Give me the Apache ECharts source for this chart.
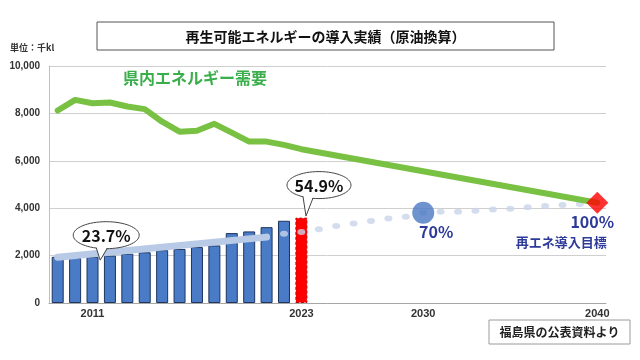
<!DOCTYPE html>
<html><head><meta charset="utf-8">
<script src="https://cdn.jsdelivr.net/npm/echarts@6/dist/echarts.min.js"></script>
<style>html,body{margin:0;padding:0;background:#fff}#c{width:640px;height:360px}</style>
</head><body><div id="c"></div>
<script>
// ---- data ----
const years = ['2009','2010','2011','2012','2013','2014','2015','2016','2017','2018','2019','2020','2021','2022','2023','2024','2025','2026','2027','2028','2029','2030','2031','2032','2033','2034','2035','2036','2037','2038','2039','2040'];
const xTickLabels = ['2011','2023','2030','2040'];
const yTicks = [0, 2000, 4000, 6000, 8000, 10000];
// renewable energy introduced (thousand kl, crude-oil equivalent)
const renewYears = ['2009','2010','2011','2012','2013','2014','2015','2016','2017','2018','2019','2020','2021','2022','2023'];
const renewables = [1950,1900,1950,2000,2080,2140,2230,2280,2360,2430,2950,3020,3200,3470,3600];
// prefectural energy demand
const demandYears = ['2009','2010','2011','2012','2013','2014','2015','2016','2017','2018','2019','2020','2021','2022','2023','2040'];
const demand = [8120,8570,8430,8460,8290,8180,7650,7230,7270,7560,7190,6810,6810,6670,6490,4230];
// share trend (light line)
const trendYears = ['2009','2021'];
const trendValues = [1930,2780];
// target path (dots)
const pathYears = ['2022','2023','2024','2025','2026','2027','2028','2029','2030','2031','2032','2033','2034','2035','2036','2037','2038','2039'];
const pathValues = [2920,3000,3115,3245,3355,3465,3570,3635,3805,3850,3850,3890,3950,3975,4035,4090,4130,4175];
// targets
const targetYears = ['2030','2040'];
const targetValues = [3805,4230];
const targetLabels = ['70%','100%'];
const targetCaption = '再エネ導入目標';
const shareCallouts = [{year:'2011', value:1950, text:'23.7%'}, {year:'2023', value:3600, text:'54.9%'}];
const titleText = '再生可能エネルギーの導入実績（原油換算）';
const unitText = '単位：千kl';
const demandName = '県内エネルギー需要';
const sourceText = '福島県の公表資料より';

const idx = y => years.indexOf(y);
const pairs = (ys, vs) => ys.map((y, i) => [idx(y), vs[i]]);

const chart = echarts.init(document.getElementById('c'), null, {renderer: 'canvas'});
const JP = '"Noto Sans CJK JP", "Noto Sans", sans-serif';
const NUM = '"Liberation Sans", Arial, sans-serif';
const BLUE_TXT = '#2d3a9a';

chart.setOption({
  animation: false,
  grid: {left: 49, right: 34, top: 66, bottom: 57},
  xAxis: {
    type: 'category', data: years, boundaryGap: true,
    axisLine: {lineStyle: {color: '#a6a6a6', width: 1}},
    axisTick: {show: false},
    axisLabel: {
      interval: (i, v) => xTickLabels.includes(v),
      color: '#333', fontWeight: 'bold', fontSize: 11, fontFamily: NUM, margin: 5
    },
    splitLine: {show: false}
  },
  yAxis: {
    type: 'value', min: yTicks[0], max: yTicks[yTicks.length - 1], interval: 2000,
    axisLine: {show: true, lineStyle: {color: '#bfbfbf'}},
    axisTick: {show: false},
    axisLabel: {
      color: '#333', fontWeight: 'bold', fontSize: 10, fontFamily: NUM, margin: 9,
      formatter: v => v.toLocaleString('en-US')
    },
    splitLine: {lineStyle: {color: '#cfcfcf', width: 1}}
  },
  series: [
    {
      type: 'bar', barWidth: 12, z: 2,
      data: renewYears.map((y, i) => {
        const last = i === renewYears.length - 1;
        return {
          value: [idx(y), renewables[i]],
          itemStyle: last
            ? {color: '#ff0000', borderColor: '#c00000', borderWidth: 1, borderType: [3, 2]}
            : {color: '#4a7bc6', borderColor: '#1e3560', borderWidth: 1}
        };
      })
    },
    {
      type: 'line', z: 3, symbol: 'none', silent: true,
      data: pairs(trendYears, trendValues),
      lineStyle: {color: '#b8cae6', width: 7, cap: 'round'}
    },
    {
      type: 'scatter', z: 4, symbol: 'circle', symbolSize: [8, 6], silent: true,
      data: pairs(pathYears, pathValues),
      itemStyle: {color: '#c8d5ea'}
    },
    {
      type: 'line', z: 5, symbol: 'none', silent: true,
      data: pairs(demandYears, demand),
      lineStyle: {color: '#79c143', width: 6, join: 'round', cap: 'round'}
    },
    {
      type: 'scatter', z: 6, silent: true,
      data: [
        {value: [idx(targetYears[0]), targetValues[0]], symbol: 'circle', symbolSize: 22, itemStyle: {color: '#4a78c2'}},
        {value: [idx(targetYears[1]), targetValues[1]], symbol: 'diamond', symbolSize: 22, itemStyle: {color: '#ff0000'}}
      ]
    }
  ]
});

function px(year, value) {
  return chart.convertToPixel({xAxisIndex: 0, yAxisIndex: 0}, [idx(year), value]);
}

function bubble(anchor, tipDx, tipDy, cdx, cdy, rx, ry, baseL, baseR, text) {
  const tx = anchor[0] + tipDx, ty = anchor[1] + tipDy;
  const cx = tx + cdx, cy = ty + cdy;
  const bl = tx + baseL, br = tx + baseR;
  const yOn = x => cy + ry * Math.sqrt(Math.max(0, 1 - Math.pow((x - cx) / rx, 2)));
  return [
    {type: 'ellipse', z: 20, shape: {cx: cx, cy: cy, rx: rx, ry: ry}, style: {fill: '#fff', stroke: '#444', lineWidth: 1}},
    {type: 'polygon', z: 21, shape: {points: [[bl, yOn(bl) - 2], [tx, ty], [br, yOn(br) - 2]]}, style: {fill: '#fff'}},
    {type: 'polyline', z: 22, shape: {points: [[bl, yOn(bl) - 0.3], [tx, ty], [br, yOn(br) - 0.3]]}, style: {fill: null, stroke: '#444', lineWidth: 1}},
    {type: 'text', z: 23, style: {text: text, x: cx, y: cy + 1, align: 'center', verticalAlign: 'middle',
      font: 'bold 16px ' + JP, fill: '#111'}}
  ];
}

const p1 = px(shareCallouts[0].year, shareCallouts[0].value);
const p2 = px(shareCallouts[1].year, shareCallouts[1].value);
const t30 = px(targetYears[0], targetValues[0]);
const t40 = px(targetYears[1], targetValues[1]);

const graphic = [
  {type: 'rect', z: 10, shape: {x: 97, y: 22, width: 457, height: 28}, style: {fill: '#fff', stroke: '#555', lineWidth: 1}},
  {type: 'text', z: 11, style: {text: titleText, x: 325.5, y: 36.5, align: 'center', verticalAlign: 'middle', font: 'bold 14px ' + JP, fill: '#111'}},
  {type: 'text', z: 11, style: {text: unitText, x: 10, y: 48, align: 'left', verticalAlign: 'middle', font: 'bold 9px ' + JP, fill: '#333'}},
  {type: 'text', z: 11, style: {text: demandName, x: 195, y: 78, align: 'center', verticalAlign: 'middle', font: 'bold 16px ' + JP, fill: '#3aae4a'}},
  {type: 'text', z: 11, style: {text: targetLabels[0], x: t30[0] + 13, y: t30[1] + 19, align: 'center', verticalAlign: 'middle', font: 'bold 16px ' + JP, fill: BLUE_TXT}},
  {type: 'text', z: 11, style: {text: targetLabels[1], x: t40[0] - 5, y: t40[1] + 19, align: 'center', verticalAlign: 'middle', font: 'bold 16px ' + JP, fill: BLUE_TXT}},
  {type: 'text', z: 11, style: {text: targetCaption, x: t40[0] - 36, y: t40[1] + 39, align: 'center', verticalAlign: 'middle', font: 'bold 13px ' + JP, fill: BLUE_TXT}},
  {type: 'rect', z: 10, shape: {x: 489, y: 320, width: 141, height: 24}, style: {fill: '#fff', stroke: '#9a9a9a', lineWidth: 1}},
  {type: 'text', z: 11, style: {text: sourceText, x: 559.5, y: 332.5, align: 'center', verticalAlign: 'middle', font: 'bold 12px ' + JP, fill: '#222'}}
].concat(
  bubble(p1, 7.7, 3.4, 6, -25, 33, 13.5, -4, 7, shareCallouts[0].text),
  bubble(p2, 4.6, -1.6, 13, -31, 32, 13.5, -3, 7, shareCallouts[1].text)
);

chart.setOption({graphic: graphic});
</script>
</body></html>
